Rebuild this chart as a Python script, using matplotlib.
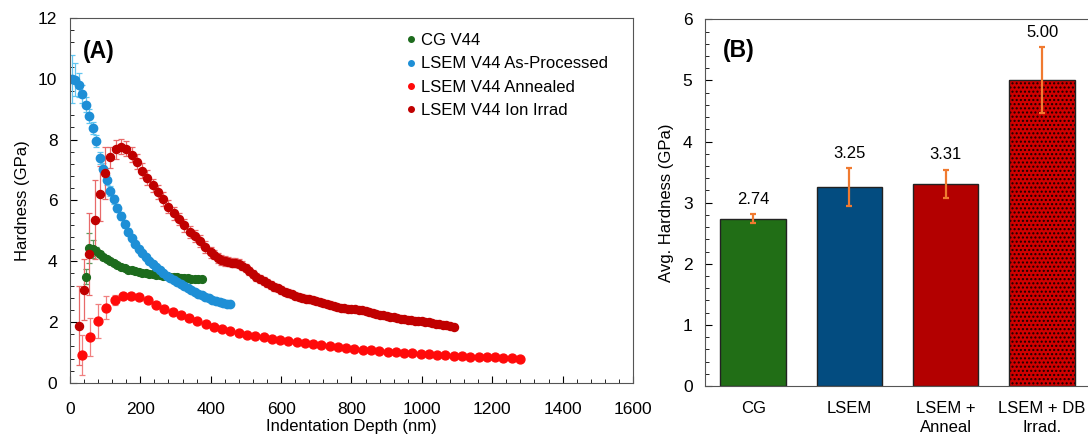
import matplotlib
matplotlib.use("Agg")
import matplotlib.pyplot as plt
from matplotlib.lines import Line2D
from matplotlib.ticker import MultipleLocator
import numpy as np

plt.rcParams['font.family'] = ['Liberation Sans', 'DejaVu Sans']
plt.rcParams['font.size'] = 10.5
plt.rcParams['hatch.linewidth'] = 1.0

# ---- panel A data (depth in nm, hardness in GPa) ----
cg_depth = np.arange(45, 376, 10)
cg_hard = [3.50, 4.43, 4.40, 4.33, 4.25, 4.15, 4.07, 4.00, 3.93, 3.87,
           3.81, 3.77, 3.73, 3.70, 3.67, 3.64, 3.62, 3.60, 3.58, 3.57,
           3.55, 3.54, 3.52, 3.51, 3.49, 3.48, 3.47, 3.46, 3.45, 3.44,
           3.43, 3.42, 3.41, 3.41]
cg_err = [0.25, 0.50, 0.30, 0.15, 0.10, 0.08, 0.07, 0.06, 0.05, 0.05,
          0.05, 0.04, 0.04, 0.04, 0.04, 0.04, 0.04, 0.04, 0.04, 0.04,
          0.04, 0.04, 0.04, 0.04, 0.04, 0.04, 0.04, 0.04, 0.04, 0.04,
          0.04, 0.04, 0.04, 0.04]

asp_depth = np.arange(5, 456, 10)
asp_hard = [10.00, 9.97, 9.80, 9.50, 9.15, 8.78, 8.38, 7.95, 7.40, 7.05,
            6.68, 6.32, 6.04, 5.76, 5.48, 5.22, 4.97, 4.76, 4.57, 4.40,
            4.26, 4.14, 4.02, 3.91, 3.81, 3.72, 3.62, 3.53, 3.46, 3.39,
            3.33, 3.26, 3.19, 3.12, 3.06, 3.00, 2.94, 2.89, 2.82, 2.78,
            2.74, 2.70, 2.67, 2.64, 2.61, 2.59]
asp_err = [0.78, 0.55, 0.40, 0.30, 0.25, 0.22, 0.20, 0.20, 0.19, 0.18,
           0.17, 0.16, 0.15, 0.14, 0.13, 0.12, 0.11, 0.10, 0.10, 0.09,
           0.09, 0.08, 0.08, 0.07, 0.07, 0.07, 0.06, 0.06, 0.06, 0.06,
           0.05, 0.05, 0.05, 0.05, 0.05, 0.05, 0.05, 0.05, 0.05, 0.05,
           0.05, 0.05, 0.05, 0.05, 0.05, 0.05]

ann_depth = np.arange(33, 1280, 23.5)
ann_hard = [0.92, 1.52, 2.04, 2.48, 2.73, 2.86, 2.87, 2.83, 2.72, 2.58,
            2.44, 2.33, 2.23, 2.15, 2.05, 1.93, 1.85, 1.77, 1.70, 1.64,
            1.59, 1.54, 1.50, 1.46, 1.42, 1.38, 1.34, 1.31, 1.27, 1.24,
            1.20, 1.17, 1.14, 1.12, 1.10, 1.07, 1.05, 1.03, 1.01, 0.99,
            0.97, 0.95, 0.94, 0.92, 0.91, 0.90, 0.88, 0.87, 0.86, 0.85,
            0.84, 0.83, 0.82, 0.80]
ann_err = [0.65, 0.62, 0.55, 0.38, 0.15, 0.10, 0.08, 0.08, 0.07, 0.07,
           0.06, 0.06, 0.06, 0.05, 0.05, 0.05, 0.05, 0.05, 0.04, 0.04,
           0.04, 0.04, 0.04, 0.04, 0.04, 0.04, 0.04, 0.04, 0.03, 0.03,
           0.03, 0.03, 0.03, 0.03, 0.03, 0.03, 0.03, 0.03, 0.03, 0.03,
           0.03, 0.03, 0.03, 0.03, 0.03, 0.03, 0.03, 0.03, 0.03, 0.03,
           0.03, 0.03, 0.03, 0.03]

ion_depth = np.concatenate([np.arange(25, 401, 15), np.arange(410, 1091, 10)])
ion_hard = [1.88, 3.06, 4.23, 5.36, 6.22, 6.90, 7.42, 7.68, 7.77, 7.70,
            7.50, 7.28, 6.98, 6.75, 6.50, 6.28, 6.05, 5.80, 5.58, 5.38,
            5.18, 4.97, 4.82, 4.66, 4.48, 4.30,
            4.22, 4.12, 4.05, 4.01, 3.98, 3.96, 3.95, 3.92, 3.86, 3.78,
            3.68, 3.58, 3.49, 3.41, 3.34, 3.28, 3.22, 3.16, 3.11, 3.06,
            3.00, 2.96, 2.91, 2.87, 2.83, 2.80, 2.77, 2.75, 2.73, 2.70,
            2.67, 2.64, 2.61, 2.58, 2.54, 2.50, 2.47, 2.45, 2.44, 2.43,
            2.42, 2.41, 2.39, 2.36, 2.33, 2.30, 2.27, 2.24, 2.22, 2.20,
            2.18, 2.16, 2.14, 2.12, 2.10, 2.08, 2.07, 2.05, 2.04, 2.03,
            2.01, 1.99, 1.97, 1.95, 1.93, 1.91, 1.89, 1.87, 1.85]
ion_err = [1.30, 1.00, 1.35, 1.30, 0.90, 0.85, 0.35, 0.30, 0.25, 0.25,
           0.25, 0.25, 0.25, 0.25, 0.22, 0.22, 0.22, 0.22, 0.22, 0.20,
           0.20, 0.20, 0.20, 0.20, 0.20, 0.18,
           0.16, 0.16, 0.16, 0.15, 0.15, 0.15, 0.15, 0.15, 0.14, 0.14,
           0.14, 0.14, 0.14, 0.13, 0.13, 0.13, 0.13, 0.13, 0.12, 0.12,
           0.12, 0.12, 0.12, 0.12, 0.11, 0.11, 0.11, 0.11, 0.11, 0.11,
           0.10, 0.10, 0.10, 0.10, 0.10, 0.10, 0.10, 0.10, 0.10, 0.10,
           0.09, 0.09, 0.09, 0.09, 0.09, 0.09, 0.09, 0.09, 0.09, 0.09,
           0.08, 0.08, 0.08, 0.08, 0.08, 0.08, 0.08, 0.08, 0.08, 0.08,
           0.08, 0.08, 0.08, 0.08, 0.08, 0.08, 0.08, 0.08, 0.08]

# ---- panel B data ----
bar_labels = ['CG', 'LSEM', 'LSEM +\nAnneal', 'LSEM + DB\nIrrad.']
bar_vals = [2.74, 3.25, 3.31, 5.00]
bar_err = [0.07, 0.31, 0.23, 0.54]

fig = plt.figure(figsize=(10.88, 4.36), dpi=100)
ax = fig.add_axes([0.0643, 0.1216, 0.5175, 0.8371])

def series(x, y, e, col, ecol, ms):
    ax.errorbar(x, y, yerr=e, fmt='o', color=col, ms=ms, mec=col,
                ecolor=ecol, elinewidth=0.9, capsize=2.5, capthick=0.9)

series(cg_depth, cg_hard, cg_err, '#1d6b1d', '#5f9a5f', 5.6)
series(asp_depth, asp_hard, asp_err, '#1e8fd6', '#62c6f0', 6.0)
series(ann_depth, ann_hard, ann_err, '#ff0a0a', '#f08080', 6.4)
series(ion_depth, ion_hard, ion_err, '#c00000', '#e86a6a', 5.8)

ax.set_xlim(0, 1600)
ax.set_ylim(0, 12)
ax.xaxis.set_major_locator(MultipleLocator(200))
ax.xaxis.set_minor_locator(MultipleLocator(40))
ax.yaxis.set_major_locator(MultipleLocator(2))
ax.yaxis.set_minor_locator(MultipleLocator(0.4))
ax.tick_params(which='both', direction='in', labelsize=12.5)
ax.tick_params(which='major', length=5, pad=9)
ax.tick_params(axis='x', which='major', pad=14)
ax.tick_params(which='minor', length=3)
ax.set_xlabel('Indentation Depth (nm)', fontsize=12, labelpad=1)
ax.set_ylabel('Hardness (GPa)', fontsize=12, labelpad=6)
for s in ax.spines.values():
    s.set_color('#555555')
ax.text(0.023, 0.907, '(A)', transform=ax.transAxes, fontsize=16.5,
        fontweight='bold', va='center')

handles = [Line2D([], [], ls='', marker='o', ms=4, color=c) for c in
           ['#1d6b1d', '#1e8fd6', '#ff0a0a', '#c00000']]
names = ['CG V44', 'LSEM V44 As-Processed', 'LSEM V44 Annealed',
         'LSEM V44 Ion Irrad']
ax.legend(handles, names, loc='upper left', bbox_to_anchor=(0.565, 1.0),
          frameon=False, fontsize=12, handletextpad=0.1, handlelength=1.0,
          labelspacing=0.5)

# ---- panel B ----
bx = fig.add_axes([0.648, 0.1147, 0.354, 0.841])
xpos = np.arange(len(bar_vals))
cols = ['#216e16', '#034c80', '#b30000']
bx.bar(xpos[:3], bar_vals[:3], width=0.68, color=cols, edgecolor='#222222',
       linewidth=1.0)
bx.bar(xpos[3], bar_vals[3], width=0.68, color='#d00000', edgecolor='#1a0000',
       hatch='....', linewidth=0)
bx.bar(xpos[3], bar_vals[3], width=0.68, fill=False, edgecolor='#222222',
       linewidth=1.0)
bx.errorbar(xpos, bar_vals, yerr=bar_err, fmt='none', ecolor='#f07a30',
            elinewidth=1.6, capsize=2.5, capthick=1.6)
for xi, v, e in zip(xpos, bar_vals, bar_err):
    bx.text(xi, v + e + 0.12, f'{v:.2f}', ha='center', va='bottom',
            fontsize=12)
bx.set_xlim(-0.5, 3.5)
bx.set_ylim(0, 6)
bx.set_xticks(xpos)
bx.set_xticklabels(bar_labels, fontsize=12, linespacing=1.3)
bx.yaxis.set_major_locator(MultipleLocator(1))
bx.yaxis.set_minor_locator(MultipleLocator(0.2))
bx.tick_params(axis='x', length=0, pad=11)
bx.tick_params(axis='y', which='both', direction='in', labelsize=12.5)
bx.tick_params(axis='y', which='major', length=5, pad=9)
bx.tick_params(axis='y', which='minor', length=3)
bx.set_ylabel('Avg. Hardness (GPa)', fontsize=12, labelpad=6)
for s in bx.spines.values():
    s.set_color('#555555')
bx.text(0.046, 0.916, '(B)', transform=bx.transAxes, fontsize=16.5,
        fontweight='bold', va='center')

fig.savefig('out.png', dpi=100)
